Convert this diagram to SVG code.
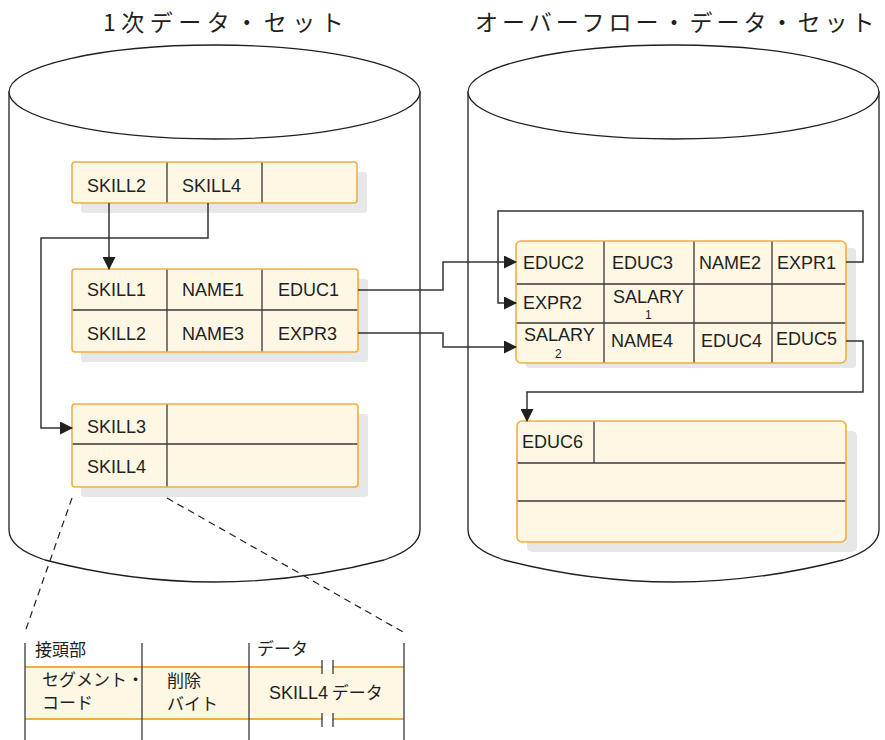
<svg xmlns="http://www.w3.org/2000/svg" width="885" height="740" viewBox="0 0 885 740">
<style>
.cyl{fill:#fff;stroke:#231f20;stroke-width:1.3}
.shadow{fill:#e6e7e9}
.box{fill:#fdf7e4}
.border{fill:none;stroke:#f1ad45;stroke-width:1.6}
.div{stroke:#3a3a3a;stroke-width:1.3;fill:none}
.t{font-family:"Liberation Sans",Arial,sans-serif;font-size:18px;fill:#231f20}
.sub{font-family:"Liberation Sans",Arial,sans-serif;font-size:12px;fill:#231f20}
.jp{font-family:"Noto Sans CJK JP","Liberation Sans",sans-serif;font-size:17px;fill:#231f20}
.title{font-family:"Noto Sans CJK JP","Liberation Sans",sans-serif;font-size:23px;fill:#231f20}
.conn{fill:none;stroke:#333;stroke-width:1.5}
.dash{fill:none;stroke:#231f20;stroke-width:1.2;stroke-dasharray:7,5}
</style>
<defs>
<marker id="ah" markerUnits="userSpaceOnUse" markerWidth="13" markerHeight="13" refX="12" refY="6.5" orient="auto" viewBox="0 0 13 13">
<path d="M0,0 L13,6.5 L0,13 z" fill="#231f20"/>
</marker>
</defs>

<g id="title-primary"><text class="title" x="103" y="31" letter-spacing="5.5">1次データ・セット</text></g>
<g id="title-overflow"><text class="title" x="475" y="31" letter-spacing="4">オーバーフロー・データ・セット</text></g>

<g id="cylinder-primary">
<path class="cyl" d="M9,92 L9,530 Q9,548 45,560 Q130,582 214.5,582 Q299,582 384,560 Q420,548 420,530 L420,92 Z"/>
<ellipse class="cyl" cx="214.5" cy="92" rx="205.5" ry="47"/>
</g>
<g id="cylinder-overflow">
<path class="cyl" d="M468,92 L468,530 Q468,548 504,560 Q589,582 673.5,582 Q758,582 843,560 Q879,548 879,530 L879,92 Z"/>
<ellipse class="cyl" cx="673.5" cy="92" rx="205.5" ry="47"/>
</g>

<g id="root-segment">
<rect class="shadow" x="81" y="172" width="286" height="41" rx="3"/>
<rect class="box" x="72" y="162" width="285" height="41" rx="3"/>
<path class="div" d="M167,162 V203 M262,162 V203"/>
<rect class="border" x="72" y="162" width="285" height="41" rx="3"/>
<text class="t" x="87" y="192">SKILL2</text>
<text class="t" x="182" y="192">SKILL4</text>
</g>

<g id="skill-segments">
<rect class="shadow" x="81" y="279" width="287" height="83" rx="3"/>
<rect class="box" x="72" y="269" width="286" height="83" rx="3"/>
<path class="div" d="M72,310 H358 M167,269 V352 M262,269 V352"/>
<rect class="border" x="72" y="269" width="286" height="83" rx="3"/>
<text class="t" x="87" y="296">SKILL1</text>
<text class="t" x="182" y="296">NAME1</text>
<text class="t" x="278" y="296">EDUC1</text>
<text class="t" x="87" y="340">SKILL2</text>
<text class="t" x="182" y="340">NAME3</text>
<text class="t" x="278" y="340">EXPR3</text>
</g>

<g id="skill34-segments">
<rect class="shadow" x="81" y="414" width="287" height="83" rx="3"/>
<rect class="box" x="72" y="404" width="286" height="83" rx="3"/>
<path class="div" d="M72,444 H358 M167,404 V487"/>
<rect class="border" x="72" y="404" width="286" height="83" rx="3"/>
<text class="t" x="87" y="433">SKILL3</text>
<text class="t" x="87" y="473">SKILL4</text>
</g>

<g id="overflow-segments">
<rect class="shadow" x="526" y="248" width="330" height="120" rx="3"/>
<rect class="box" x="516" y="241" width="330" height="122" rx="5"/>
<path class="div" d="M516,284 H846 M516,323 H846 M604,241 V363 M694,241 V363 M772,241 V363"/>
<rect class="border" x="516" y="241" width="330" height="122" rx="5"/>
<text class="t" x="523" y="269">EDUC2</text>
<text class="t" x="612" y="269">EDUC3</text>
<text class="t" x="699" y="269">NAME2</text>
<text class="t" x="777" y="269">EXPR1</text>
<text class="t" x="523" y="309">EXPR2</text>
<text class="t" x="613" y="303">SALARY</text>
<text class="sub" x="645" y="319">1</text>
<text class="t" x="524" y="341">SALARY</text>
<text class="sub" x="555" y="358">2</text>
<text class="t" x="611" y="347">NAME4</text>
<text class="t" x="701" y="347">EDUC4</text>
<text class="t" x="776" y="345">EDUC5</text>
</g>

<g id="educ6-segment">
<rect class="shadow" x="527" y="431" width="330" height="121" rx="5"/>
<rect class="box" x="517" y="421" width="329" height="121" rx="5"/>
<path class="div" d="M517,463 H846 M517,501 H846 M594,421 V463"/>
<rect class="border" x="517" y="421" width="329" height="121" rx="5"/>
<text class="t" x="522" y="448">EDUC6</text>
</g>

<g id="connectors">
<path class="conn" d="M109,203 V269" marker-end="url(#ah)"/>
<path class="conn" d="M208,203 V238 H41 V428 H72" marker-end="url(#ah)"/>
<path class="conn" d="M358,290 H443 V262 H516" marker-end="url(#ah)"/>
<path class="conn" d="M358,333 H443 V347 H516" marker-end="url(#ah)"/>
<path class="conn" d="M846,262 H863 V211 H498 V303 H516" marker-end="url(#ah)"/>
<path class="conn" d="M846,341 H863 V392 H527 V421" marker-end="url(#ah)"/>
<path class="dash" d="M72,498 L25,632"/>
<path class="dash" d="M167,498 L403,632"/>
</g>

<g id="segment-detail">
<rect class="box" x="25" y="667" width="379" height="52"/>
<path d="M25,667 H404 M25,719 H404" stroke="#f1ad45" stroke-width="1.8" fill="none"/>
<rect x="322.5" y="664" width="10" height="6" fill="#fff"/>
<rect x="322.5" y="716" width="10" height="6" fill="#fff"/>
<path class="div" d="M25,643 V740 M142,643 V740 M249,643 V740 M404,643 V740"/>
<path class="div" d="M322,660 V674 M333,660 V674 M322,713 V727 M333,713 V727"/>
<text class="jp" x="35" y="656">接頭部</text>
<text class="jp" x="257" y="655">データ</text>
<text class="jp" x="42" y="686">セグメント・</text>
<text class="jp" x="42" y="709">コード</text>
<text class="jp" x="167" y="687">削除</text>
<text class="jp" x="167" y="710">バイト</text>
<text class="t" x="269" y="699">SKILL4<tspan font-family="Noto Sans CJK JP" font-size="17"> データ</tspan></text>
</g>
</svg>
